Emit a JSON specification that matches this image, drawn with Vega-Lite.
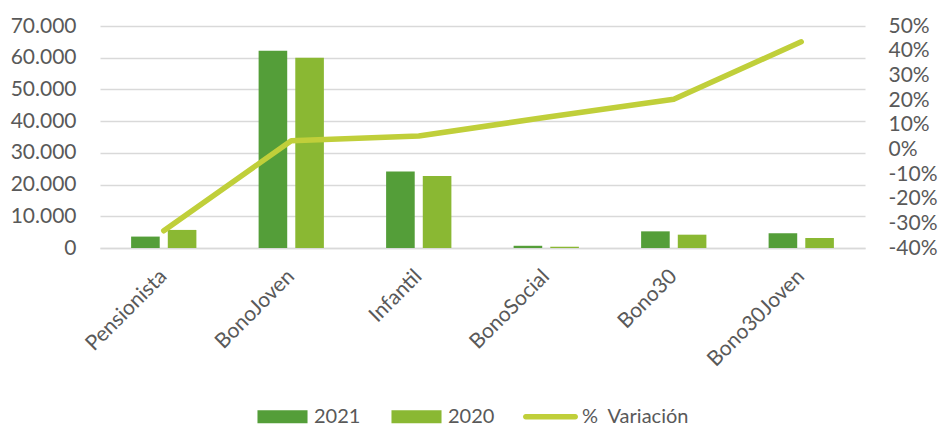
{
  "$schema": "https://vega.github.io/schema/vega-lite/v6.json",
  "width": 765,
  "height": 222,
  "autosize": {"type": "none"},
  "padding": {"left": 100, "top": 26, "right": 74, "bottom": 178},
  "background": "white",
  "config": {
    "view": {"stroke": null},
    "font": "Lato",
    "axis": {"labelFont": "Lato", "labelColor": "#595959", "labelFontSize": 21, "title": null}
  },
  "datasets": {
    "bars": [
      {"cat": "Pensionista", "year": "2021", "value": 3600},
      {"cat": "Pensionista", "year": "2020", "value": 5700},
      {"cat": "BonoJoven", "year": "2021", "value": 62200},
      {"cat": "BonoJoven", "year": "2020", "value": 60000},
      {"cat": "Infantil", "year": "2021", "value": 24100},
      {"cat": "Infantil", "year": "2020", "value": 22700},
      {"cat": "BonoSocial", "year": "2021", "value": 700},
      {"cat": "BonoSocial", "year": "2020", "value": 400},
      {"cat": "Bono30", "year": "2021", "value": 5250},
      {"cat": "Bono30", "year": "2020", "value": 4200},
      {"cat": "Bono30Joven", "year": "2021", "value": 4650},
      {"cat": "Bono30Joven", "year": "2020", "value": 3150}
    ],
    "line": [
      {"cat": "Pensionista", "pct": -0.33},
      {"cat": "BonoJoven", "pct": 0.035},
      {"cat": "Infantil", "pct": 0.054},
      {"cat": "BonoSocial", "pct": 0.13},
      {"cat": "Bono30", "pct": 0.203},
      {"cat": "Bono30Joven", "pct": 0.436}
    ]
  },
  "layer": [
    {
      "data": {"name": "bars"},
      "mark": {"type": "bar"},
      "encoding": {
        "x": {
          "field": "cat", "type": "nominal",
          "sort": ["Pensionista", "BonoJoven", "Infantil", "BonoSocial", "Bono30", "Bono30Joven"],
          "scale": {"paddingInner": 0.488, "paddingOuter": 0.244},
          "axis": {
            "labelAngle": -45, "labelAlign": "right", "labelBaseline": "middle",
            "labelPadding": 25, "ticks": false,
            "domain": true, "domainColor": "#d9d9d9", "domainWidth": 1.5,
            "grid": false
          }
        },
        "xOffset": {"field": "year", "type": "nominal", "scale": {"domain": ["2021", "2020"], "paddingInner": 0.22, "paddingOuter": 0}},
        "y": {
          "field": "value", "type": "quantitative",
          "scale": {"domain": [0, 70000], "nice": false},
          "axis": {
            "values": [0, 10000, 20000, 30000, 40000, 50000, 60000, 70000],
            "labelExpr": "replace(format(datum.value, ','), /,/g, '.')",
            "grid": true, "gridColor": "#d9d9d9", "gridWidth": 1.5,
            "domain": false, "ticks": false, "labelPadding": 24
          }
        },
        "color": {
          "field": "year", "type": "nominal",
          "scale": {"domain": ["2021", "2020", "%\u00a0 Variación"], "range": ["#549E39", "#8AB833", "#C0CF3A"]},
          "legend": {
            "title": null,
            "orient": "none",
            "direction": "horizontal",
            "legendX": 155,
            "legendY": 363,
            "symbolSize": 3025,
            "symbolStrokeWidth": 0,
            "symbolOpacity": 1,
            "labelFont": "Lato",
            "labelFontSize": 20,
            "labelColor": "#595959",
            "labelOffset": 4,
            "columnPadding": 28,
            "encode": {
              "symbols": {
                "update": {
                  "shape": {"signal": "(datum.value !== '2021' && datum.value !== '2020') ? 'M-0.9,-0.1H0.9A0.1,0.1,0,0,1,0.9,0.1H-0.9A0.1,0.1,0,0,1,-0.9,-0.1Z' : 'M-0.91,-0.24H0.91V0.24H-0.91Z'"},
                  "strokeWidth": {"value": 0}
                }
              }
            }
          }
        }
      }
    },
    {
      "data": {"name": "line"},
      "mark": {"type": "line", "color": "#C0CF3A", "strokeWidth": 5.5, "strokeCap": "round", "strokeJoin": "round"},
      "encoding": {
        "x": {"field": "cat", "type": "nominal", "sort": ["Pensionista", "BonoJoven", "Infantil", "BonoSocial", "Bono30", "Bono30Joven"]},
        "y": {
          "field": "pct", "type": "quantitative",
          "scale": {"domain": [-0.4, 0.5], "nice": false},
          "axis": {
            "orient": "right",
            "values": [-0.4, -0.3, -0.2, -0.1, 0, 0.1, 0.2, 0.3, 0.4, 0.5],
            "labelExpr": "replace(format(datum.value, '.0%'), '\u2212', '-')",
            "grid": false, "domain": false, "ticks": false, "labelPadding": 23
          }
        }
      }
    }
  ],
  "resolve": {"scale": {"y": "independent"}}
}
